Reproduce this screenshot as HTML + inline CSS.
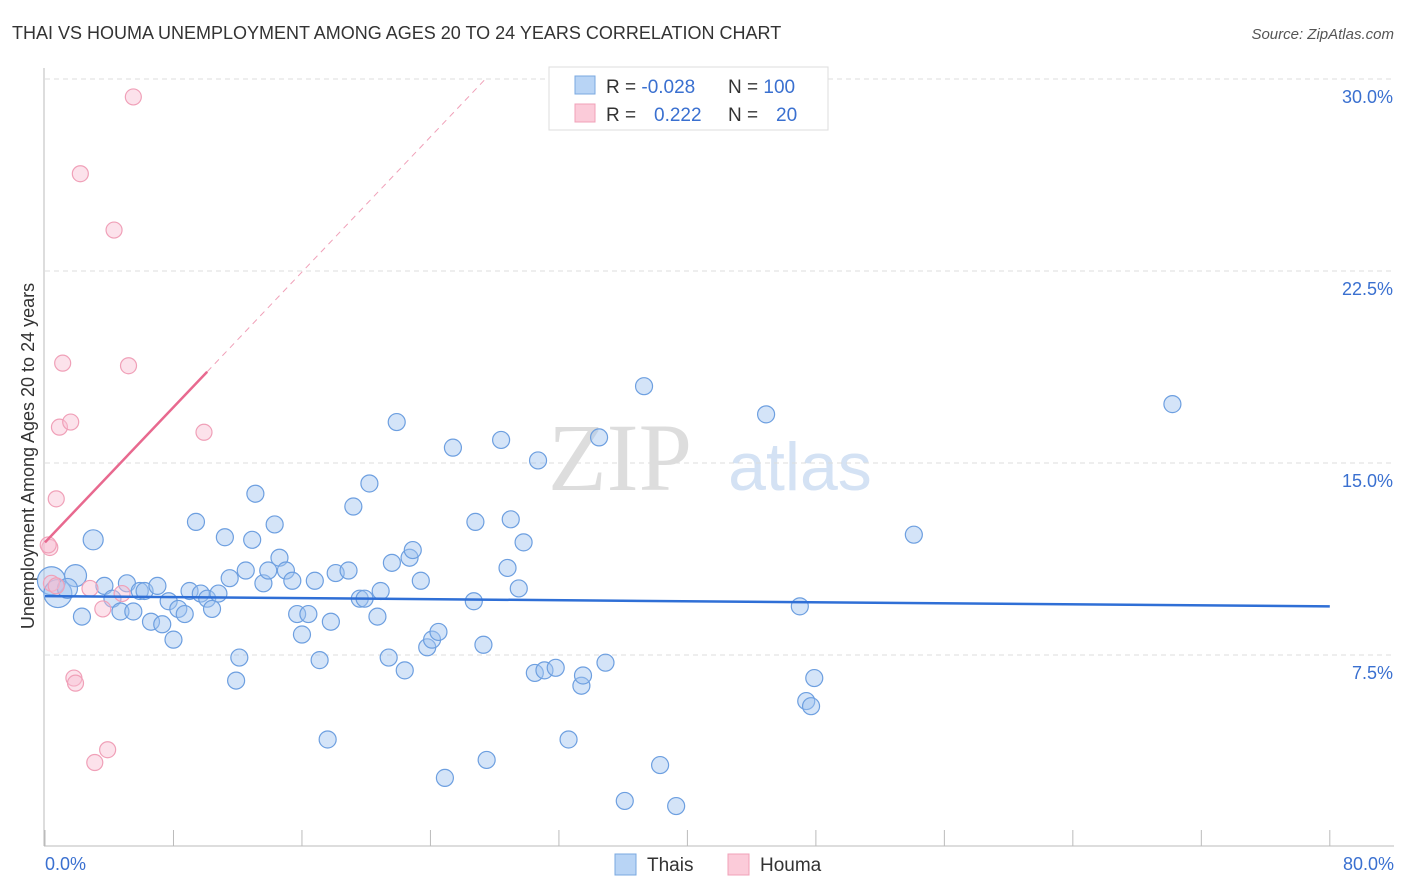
<!DOCTYPE html>
<html><head><meta charset="utf-8"><style>
body{margin:0;background:#fff;font-family:"Liberation Sans",sans-serif;}
svg{display:block}
</style></head><body>
<svg id="chart" width="1406" height="892">
<text x="12" y="39" font-size="18" fill="#333">THAI VS HOUMA UNEMPLOYMENT AMONG AGES 20 TO 24 YEARS CORRELATION CHART</text>
<text x="1394" y="39" font-size="15" fill="#555" font-style="italic" text-anchor="end">Source: ZipAtlas.com</text>
<text x="0" y="0" transform="translate(34,456) rotate(-90)" font-size="18" fill="#333" text-anchor="middle">Unemployment Among Ages 20 to 24 years</text>
<text x="620" y="490" font-size="96" fill="#ddd" font-family="Liberation Serif,serif" text-anchor="middle">ZIP</text>
<text x="800" y="490" font-size="68" fill="#d4e2f4" text-anchor="middle">atlas</text>
<g id="grid"></g><g id="axes"></g><g id="pts"></g><g id="trend"></g>
<g>
<rect x="549" y="67" width="279" height="63" fill="#fff" stroke="#ddd"/>
<rect x="575" y="76" width="20" height="18" fill="#b8d4f5" stroke="#7aa8e0"/>
<rect x="575" y="104" width="20" height="18" fill="#fbcbd9" stroke="#f0a0b8"/>
<text x="606" y="93" font-size="19" fill="#333">R = <tspan fill="#3a70d0">-0.028</tspan><tspan x="728">N = </tspan><tspan fill="#3a70d0">100</tspan></text>
<text x="606" y="121" font-size="19" fill="#333">R = <tspan x="654" fill="#3a70d0">0.222</tspan><tspan x="728">N = </tspan><tspan x="776" fill="#3a70d0">20</tspan></text>
</g>
<g>
<rect x="615" y="854" width="21" height="21" fill="#b8d4f5" stroke="#7aa8e0"/>
<text x="647" y="871" font-size="19" fill="#333">Thais</text>
<rect x="728" y="854" width="21" height="21" fill="#fbcbd9" stroke="#f0a0b8"/>
<text x="760" y="871" font-size="19" fill="#333">Houma</text>
</g>
</svg>
<script>
const yTicks=[7.5,15,22.5,30];
const xTickLabels=["0.0%","80.0%"];
const thaiX=[0.4,0.8,1.9,1.4,3.0,2.3,3.7,4.2,4.7,5.1,5.5,5.9,6.2,6.6,7.0,7.3,7.7,8.0,8.3,8.7,9.0,9.4,9.7,10.1,10.4,10.8,11.2,11.5,11.9,12.1,12.5,12.9,13.1,13.6,13.9,14.3,14.6,15.0,15.4,15.7,16.0,16.4,16.8,17.1,17.6,17.8,18.1,18.9,19.2,19.6,19.9,20.2,20.7,20.9,21.4,21.6,21.9,22.4,22.7,22.9,23.4,23.8,24.1,24.5,24.9,25.4,26.7,26.8,27.3,27.5,28.4,28.8,29.0,29.5,29.8,30.7,30.5,31.1,31.8,32.6,33.4,33.5,34.5,34.9,36.1,37.3,38.3,39.3,44.9,47.0,47.4,47.7,47.9,54.1,70.2];
const thaiY=[10.4,9.9,10.6,10.1,12.0,9.0,10.2,9.7,9.2,10.3,9.2,10.0,10.0,8.8,10.2,8.7,9.6,8.1,9.3,9.1,10.0,12.7,9.9,9.7,9.3,9.9,12.1,10.5,6.5,7.4,10.8,12.0,13.8,10.3,10.8,12.6,11.3,10.8,10.4,9.1,8.3,9.1,10.4,7.3,4.2,8.8,10.7,10.8,13.3,9.7,9.7,14.2,9.0,10.0,7.4,11.1,16.6,6.9,11.3,11.6,10.4,7.8,8.1,8.4,2.7,15.6,9.6,12.7,7.9,3.4,15.9,10.9,12.8,10.1,11.9,15.1,6.8,6.9,7.0,4.2,6.3,6.7,16.0,7.2,1.8,18.0,3.2,1.6,16.9,9.4,5.7,5.5,6.6,12.2,17.3];
const thaiBig=[14,14,11,10,10];
const houmaX=[0.3,0.4,0.7,0.7,0.9,1.1,1.6,1.8,1.9,2.2,2.8,3.1,3.6,3.9,4.3,4.8,5.2,5.5,9.9,0.2];
const houmaY=[11.7,10.3,10.2,13.6,16.4,18.9,16.6,6.6,6.4,26.3,10.1,3.3,9.3,3.8,24.1,9.9,18.8,29.3,16.2,11.8];
const thaiTrend=[9.8,9.4];
const houmaTrend=[11.9,0.66];
const X=v=>45+v*16.06, Y=v=>847-v*25.6;
const NS="http://www.w3.org/2000/svg";
function mk(t,a,p){const e=document.createElementNS(NS,t);for(const k in a)e.setAttribute(k,a[k]);p.appendChild(e);return e;}
const grid=document.getElementById('grid'),axes=document.getElementById('axes'),pts=document.getElementById('pts'),tr=document.getElementById('trend');
yTicks.forEach(v=>{
 const l=mk('line',{x1:45,x2:1394,y1:Y(v),y2:Y(v),stroke:'#ddd','stroke-dasharray':'5,4'},grid);
 
 
 const t=mk('text',{x:1393,y:Y(v)+24,'font-size':18,fill:'#3a70d0','text-anchor':'end'},grid);
 t.textContent=v.toFixed(1)+'%';
 
 
});
const ax=mk('line',{x1:44,x2:44,y1:68,y2:846,stroke:'#bbb'},axes);


const bx=mk('line',{x1:44,x2:1394,y1:846,y2:846,stroke:'#bbb'},axes);


for(let i=0;i<=10;i++){const t=mk('line',{x1:X(i*8),x2:X(i*8),y1:830,y2:846,stroke:'#bbb'},axes);
 
 }
[[0,'start',45],[80,'end',1394]].forEach((d,i)=>{const t=mk('text',{x:d[2],y:870,'font-size':18,fill:'#3a70d0','text-anchor':d[1]},axes);t.textContent=xTickLabels[i];
 
 });
thaiX.forEach((x,i)=>{const c=mk('circle',{cx:X(x),cy:Y(thaiY[i]),r:thaiBig[i]||8.5,fill:'rgba(160,196,240,0.45)',stroke:'#6d9fe0','stroke-width':1.2},pts);
 
 });
houmaX.forEach((x,i)=>{const c=mk('circle',{cx:X(x),cy:Y(houmaY[i]),r:8,fill:'rgba(248,190,210,0.45)',stroke:'#f0a0b8','stroke-width':1.2},pts);
 
 });
const bl=mk('line',{x1:X(0),y1:Y(thaiTrend[0]),x2:X(80),y2:Y(thaiTrend[1]),stroke:'#2f6fd6','stroke-width':2.5},tr);


const hx=(30-houmaTrend[0])/houmaTrend[1];
const pd=mk('line',{x1:X(10.1),y1:Y(houmaTrend[0]+houmaTrend[1]*10.1),x2:X(hx),y2:Y(30),stroke:'#f0a0b8','stroke-width':1,'stroke-dasharray':'6,5'},tr);


const pl=mk('line',{x1:X(0),y1:Y(houmaTrend[0]),x2:X(10.1),y2:Y(houmaTrend[0]+houmaTrend[1]*10.1),stroke:'#e8698f','stroke-width':2.5},tr);


</script>
</body></html>
